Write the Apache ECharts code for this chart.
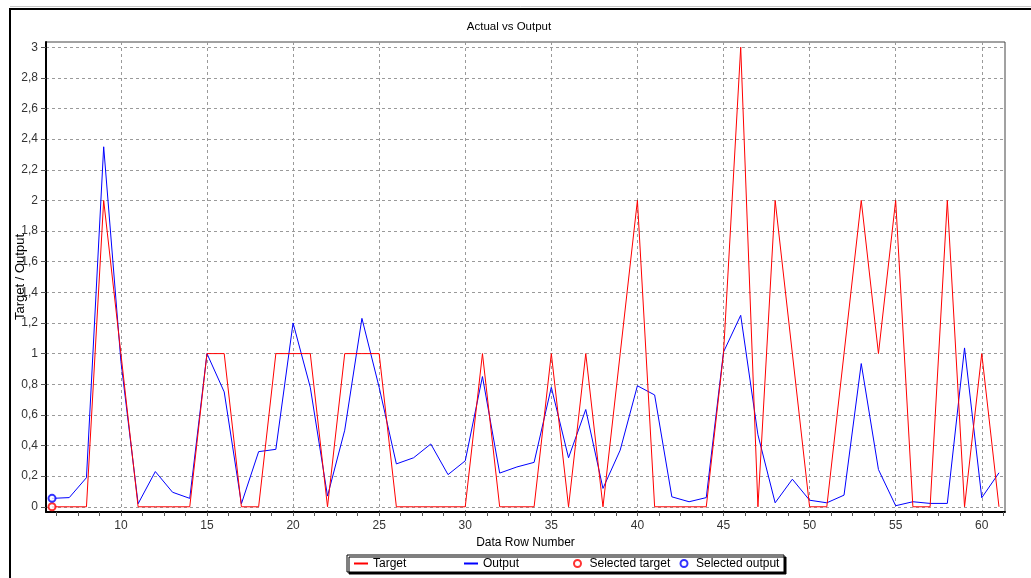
<!DOCTYPE html>
<html>
<head>
<meta charset="utf-8">
<script src="https://cdn.jsdelivr.net/npm/echarts@6/dist/echarts.min.js"></script>
<style>
html,body{margin:0;padding:0;background:#fff;}
#c{width:1031px;height:578px;}
</style>
</head>
<body>
<div id="c"></div>
<script>
// ---- data ----
const rows = [6,7,8,9,10,11,12,13,14,15,16,17,18,19,20,21,22,23,24,25,26,27,28,29,30,31,32,33,34,35,36,37,38,39,40,41,42,43,44,45,46,47,48,49,50,51,52,53,54,55,56,57,58,59,60,61];
const target = [0,0,0,2,1,0,0,0,0,1,1,0,0,1,1,1,0,1,1,1,0,0,0,0,0,1,0,0,0,1,0,1,0,1,2,0,0,0,0,1,3,0,2,1,0,0,1,2,1,2,0,0,2,0,1,0];
const output = [0.055,0.06,0.19,2.35,0.95,0.02,0.23,0.095,0.055,1.0,0.75,0.02,0.36,0.375,1.2,0.78,0.07,0.5,1.23,0.78,0.28,0.32,0.41,0.21,0.30,0.85,0.22,0.26,0.29,0.78,0.32,0.635,0.12,0.37,0.79,0.73,0.065,0.033,0.06,1.01,1.25,0.47,0.026,0.18,0.043,0.026,0.076,0.935,0.243,0.007,0.033,0.022,0.022,1.037,0.059,0.222];
const selectedTargetRows = [6];
const selectedTargetValues = [0];
const selectedOutputRows = [6];
const selectedOutputValues = [0.055];
const xTicks = [10,15,20,25,30,35,40,45,50,55,60];
const xTickLabels = ['10','15','20','25','30','35','40','45','50','55','60'];
const yTicks = [0,0.2,0.4,0.6,0.8,1,1.2,1.4,1.6,1.8,2,2.2,2.4,2.6,2.8,3];
const yTickLabels = ['0','0,2','0,4','0,6','0,8','1','1,2','1,4','1,6','1,8','2','2,2','2,4','2,6','2,8','3'];

const xMin = 5.65, xMax = 61.35, yMin = -0.034, yMax = 3.034;

// minor x ticks (4 subdivisions between major ticks)
const xMinor = [];
[5].concat(xTicks).forEach(function (m) {
  for (let k = 1; k < 4; k++) {
    const v = m + k * 1.25;
    if (v > xMin && v < xMax && xTicks.indexOf(v) < 0) xMinor.push(v);
  }
});

const FONT = '"Liberation Sans", Arial, sans-serif';

function pairs(xs, ys) { return xs.map(function (x, i) { return [x, ys[i]]; }); }
function labelFor(ticks, labels) {
  return function (v) {
    for (let i = 0; i < ticks.length; i++) if (Math.abs(ticks[i] - v) < 1e-6) return labels[i];
    return '';
  };
}

const hiddenDot = {color: 'rgba(0,0,0,0)', borderColor: 'rgba(0,0,0,0)', borderWidth: 0, opacity: 0};

const chart = echarts.init(document.getElementById('c'), null, {renderer: 'canvas'});
chart.setOption({
  animation: false,
  backgroundColor: '#fff',
  graphic: [
    {type: 'line', silent: true, shape: {x1: 10, y1: 6.5, x2: 1031, y2: 6.5}, style: {stroke: '#c8c8c8', lineWidth: 1}},
    {type: 'rect', silent: true, shape: {x: 10, y: 9, width: 1100, height: 700}, style: {fill: 'none', stroke: '#000', lineWidth: 2}},
    {type: 'text', silent: true, x: 509, y: 26.5, style: {text: 'Actual vs Output', align: 'center', verticalAlign: 'middle', fontSize: 11.5, fontFamily: FONT, fill: '#000'}}
  ],
  grid: {
    left: 46, top: 42, right: 26, bottom: 66,
    show: true, borderColor: '#444', borderWidth: 1, backgroundColor: '#fff',
    containLabel: false, outerBoundsMode: 'none'
  },
  legend: {
    left: 347, top: 555,
    orient: 'horizontal',
    padding: [2, 4, 2, 6],
    itemGap: 6,
    itemWidth: 14,
    itemHeight: 7,
    backgroundColor: '#fff',
    borderColor: '#000',
    borderWidth: 1,
    borderRadius: 0,
    shadowColor: '#000',
    shadowBlur: 0,
    shadowOffsetX: 2,
    shadowOffsetY: 2,
    itemStyle: {borderWidth: 1},
    textStyle: {fontSize: 12, fontFamily: FONT, color: '#000', width: 84, lineHeight: 13, overflow: 'none'},
    data: [
      {name: 'Target', itemStyle: hiddenDot},
      {name: 'Output', itemStyle: hiddenDot},
      {name: 'Selected target'},
      {name: 'Selected output'}
    ]
  },
  xAxis: [{
    type: 'value',
    min: xMin, max: xMax,
    position: 'bottom',
    name: 'Data Row Number',
    nameLocation: 'middle',
    nameGap: 25,
    nameMoveOverlap: false,
    nameTextStyle: {fontSize: 12, fontFamily: FONT, color: '#000'},
    axisLine: {show: true, onZero: false, lineStyle: {color: '#000', width: 2}},
    axisTick: {show: true, customValues: xTicks, length: 4, lineStyle: {color: '#555', width: 1}},
    axisLabel: {show: true, customValues: xTicks, formatter: labelFor(xTicks, xTickLabels), margin: 8, fontSize: 12, fontFamily: FONT, color: '#333'},
    splitLine: {show: true, lineStyle: {color: '#9a9a9a', width: 1, type: [3, 3]}},
    minorTick: {show: false},
    minorSplitLine: {show: false}
  }, {
    type: 'value',
    min: xMin, max: xMax,
    position: 'bottom',
    gridIndex: 0,
    axisLine: {show: false, onZero: false},
    axisTick: {show: true, customValues: xMinor, length: 4, lineStyle: {color: '#555', width: 1}},
    axisLabel: {show: false},
    splitLine: {show: false}
  }],
  yAxis: {
    type: 'value',
    min: yMin, max: yMax,
    position: 'left',
    name: 'Target / Output',
    nameLocation: 'middle',
    nameRotate: 90,
    nameGap: 19,
    nameMoveOverlap: false,
    nameTextStyle: {fontSize: 13, fontFamily: FONT, color: '#000'},
    axisLine: {show: true, onZero: false, lineStyle: {color: '#000', width: 2}},
    axisTick: {show: true, customValues: yTicks, length: 5, lineStyle: {color: '#555', width: 1}},
    axisLabel: {show: true, customValues: yTicks, formatter: labelFor(yTicks, yTickLabels), margin: 8, fontSize: 12, fontFamily: FONT, color: '#333'},
    splitLine: {show: true, lineStyle: {color: '#9a9a9a', width: 1, type: [3, 3]}}
  },
  series: [{
    name: 'Target',
    type: 'line',
    data: pairs(rows, target),
    symbol: 'none',
    lineStyle: {color: '#ff0000', width: 1},
    itemStyle: {color: '#ff0000'},
    z: 4
  }, {
    name: 'Output',
    type: 'line',
    data: pairs(rows, output),
    symbol: 'none',
    lineStyle: {color: '#0000ff', width: 1},
    itemStyle: {color: '#0000ff'},
    z: 3
  }, {
    name: 'Selected target',
    type: 'scatter',
    data: pairs(selectedTargetRows, selectedTargetValues),
    symbol: 'emptyCircle',
    symbolSize: 7,
    itemStyle: {color: '#ff0000', borderColor: '#ff0000', borderWidth: 1},
    z: 5
  }, {
    name: 'Selected output',
    type: 'scatter',
    data: pairs(selectedOutputRows, selectedOutputValues),
    symbol: 'emptyCircle',
    symbolSize: 7,
    itemStyle: {color: '#0000ff', borderColor: '#0000ff', borderWidth: 1},
    z: 5
  }]
});
</script>
</body>
</html>
